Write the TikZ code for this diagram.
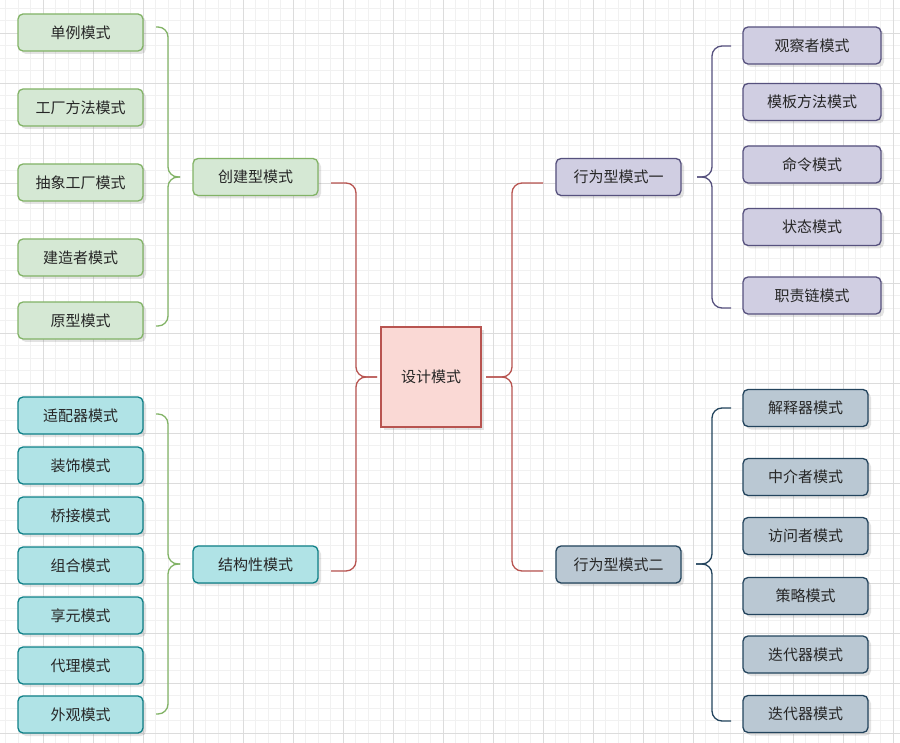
\documentclass[tikz,border=0pt]{standalone}
\usepackage{fontspec}
\setmainfont{Noto Sans CJK SC}
\usetikzlibrary{shadows}
\definecolor{gfill}{HTML}{D5E8D4}\definecolor{gdraw}{HTML}{82B366}
\definecolor{cfill}{HTML}{B0E3E6}\definecolor{cdraw}{HTML}{0E8088}
\definecolor{pfill}{HTML}{D0CEE2}\definecolor{pdraw}{HTML}{56517E}
\definecolor{bfill}{HTML}{BAC8D3}\definecolor{bdraw}{HTML}{23445D}
\definecolor{rfill}{HTML}{FAD9D5}\definecolor{rdraw}{HTML}{B85450}
\definecolor{gridmaj}{HTML}{DCDCDC}\definecolor{gridmin}{HTML}{F1F1F1}
\tikzset{
  box/.style={rectangle, rounded corners=5pt, minimum width=125pt, minimum height=37pt,
    line width=1.3pt, inner sep=0pt, text=black!85,
    font=\fontsize{15}{17}\selectfont,
    drop shadow={shadow xshift=3pt, shadow yshift=-3pt, opacity=0.18, fill=black!60}},
  gbox/.style={box, fill=gfill, draw=gdraw},
  cbox/.style={box, fill=cfill, draw=cdraw},
  pbox/.style={box, fill=pfill, draw=pdraw},
  pwide/.style={pbox, minimum width=138pt},
  bbox/.style={box, fill=bfill, draw=bdraw},
  rbox/.style={box, rounded corners=0pt, fill=rfill, draw=rdraw, minimum width=100pt, minimum height=100pt},
  brk/.style={line width=1.3pt, rounded corners=10pt},
}
\newcommand{\mybracket}[5]{%
  % #1 top, #2 tip, #3 bottom (named coordinates), #4 vertical x, #5 colour
  \draw[brk, draw=#5] (#1) -- (#4, 0 |- #1) -- (#4, 0 |- #2) -- (#2);
  \draw[brk, draw=#5] (#3) -- (#4, 0 |- #3) -- (#4, 0 |- #2) -- (#2);
}
\begin{document}
\begin{tikzpicture}[x=1pt, y=-1pt]
\useasboundingbox (0,0) rectangle (900,743);
\fill[white] (0,0) rectangle (900,743);
% grid
\foreach \i in {0,...,73} {
  \pgfmathsetmacro{\xx}{-7+12.5*\i}
  \draw[gridmin, line width=0.8pt] (\xx,0) -- (\xx,743);
}
\foreach \i in {0,...,60} {
  \pgfmathsetmacro{\yy}{8+12.5*\i}
  \draw[gridmin, line width=0.8pt] (0,\yy) -- (900,\yy);
}
\foreach \i in {0,...,18} {
  \pgfmathsetmacro{\xx}{-7+50*\i}
  \draw[gridmaj, line width=0.9pt] (\xx,0) -- (\xx,743);
}
\foreach \i in {0,...,15} {
  \pgfmathsetmacro{\yy}{33+50*\i}
  \draw[gridmaj, line width=0.9pt] (0,\yy) -- (900,\yy);
}

% centre
\node[rbox] (root) at (431,377) {设计模式};

% creational
\node[gbox] (cre) at (255.5,177) {创建型模式};
\node[gbox] (g1) at (80.5,32.5) {单例模式};
\node[gbox] (g2) at (80.5,107.5) {工厂方法模式};
\node[gbox] (g3) at (80.5,182.5) {抽象工厂模式};
\node[gbox] (g4) at (80.5,257.5) {建造者模式};
\node[gbox] (g5) at (80.5,320.5) {原型模式};

% structural
\node[cbox] (str) at (255.5,564.5) {结构性模式};
\node[cbox] (c1) at (80.5,415.5) {适配器模式};
\node[cbox] (c2) at (80.5,465.5) {装饰模式};
\node[cbox] (c3) at (80.5,515.5) {桥接模式};
\node[cbox] (c4) at (80.5,565.5) {组合模式};
\node[cbox] (c5) at (80.5,615.5) {享元模式};
\node[cbox] (c6) at (80.5,665.5) {代理模式};
\node[cbox] (c7) at (80.5,714.5) {外观模式};

% behavioural 1
\node[pbox] (b1) at (618.5,177) {行为型模式一};
\node[pwide] (p1) at (812,45.5) {观察者模式};
\node[pwide] (p2) at (812,102) {模板方法模式};
\node[pwide] (p3) at (812,164.5) {命令模式};
\node[pwide] (p4) at (812,227) {状态模式};
\node[pwide] (p5) at (812,295.5) {职责链模式};

% behavioural 2
\node[bbox] (b2) at (618.5,564.5) {行为型模式二};
\node[bbox] (q1) at (805.5,408) {解释器模式};
\node[bbox] (q2) at (805.5,477) {中介者模式};
\node[bbox] (q3) at (805.5,536) {访问者模式};
\node[bbox] (q4) at (805.5,596) {策略模式};
\node[bbox] (q5) at (805.5,654.5) {迭代器模式};
\node[bbox] (q6) at (805.5,714) {迭代器模式};

% bracket end points
\coordinate (gAt) at (156,27);  \coordinate (gAm) at (180,177); \coordinate (gAb) at (156,326);
\coordinate (gBt) at (156,414); \coordinate (gBm) at (180,564); \coordinate (gBb) at (156,714);
\coordinate (rLt) at (331,183); \coordinate (rLm) at (377,377); \coordinate (rLb) at (331,571);
\coordinate (rRt) at (543,183); \coordinate (rRm) at (486,377); \coordinate (rRb) at (543,571);
\coordinate (pt) at (731,46);   \coordinate (pm) at (697,177);  \coordinate (pb) at (731,308);
\coordinate (qt) at (731,408);  \coordinate (qm) at (696,564);  \coordinate (qb) at (731,721);

\mybracket{gAt}{gAm}{gAb}{168}{gdraw}
\mybracket{gBt}{gBm}{gBb}{168}{gdraw}
\mybracket{rLt}{rLm}{rLb}{356}{rdraw}
\mybracket{rRt}{rRm}{rRb}{512}{rdraw}
\mybracket{pt}{pm}{pb}{712}{pdraw}
\mybracket{qt}{qm}{qb}{712}{bdraw}
\end{tikzpicture}
\end{document}
